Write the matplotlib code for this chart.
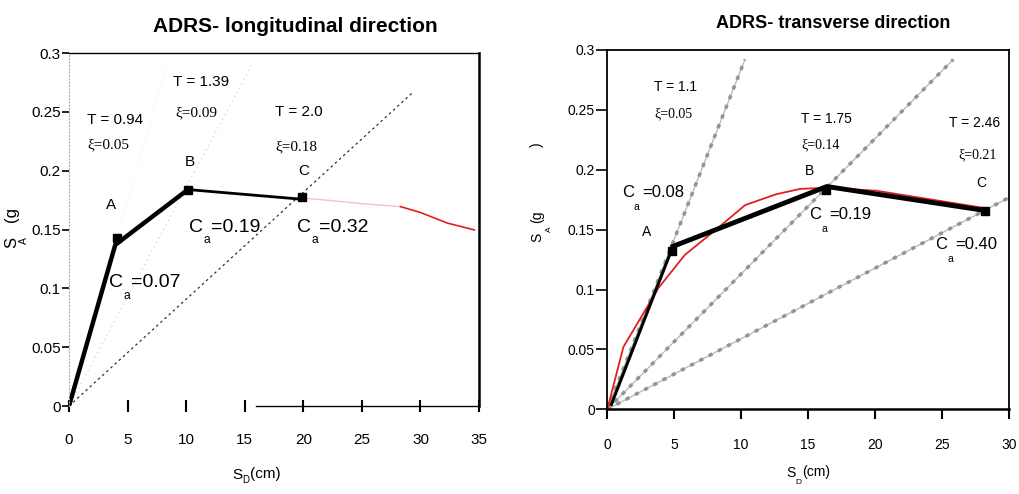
import matplotlib
matplotlib.use("Agg")
import matplotlib.pyplot as plt

plt.rcParams['font.family'] = ['Liberation Sans', 'DejaVu Sans']

# ---------------- data: longitudinal ----------------
L_cap_x = [0.0, 3.95, 10.15, 19.6]
L_cap_y = [0.0, 0.137, 0.184, 0.176]
L_pts_x = [4.08, 10.15, 19.9]
L_pts_y = [0.1425, 0.1836, 0.178]
L_dem_x = [19.5, 22.0, 25.0, 28.3, 30.0, 32.3, 34.6]
L_dem_y = [0.177, 0.175, 0.172, 0.1695, 0.1645, 0.1555, 0.1497]
L_per_end_x = [8.6, 15.6, 29.4]     # T = 0.94, 1.39, 2.0 radial lines
L_per_end_y = [0.30, 0.29, 0.267]
L_T = ["T = 0.94", "T = 1.39", "T = 2.0"]
L_xi = ["ξ=0.05", "ξ=0.09", "ξ=0.18"]
L_Ca = ["=0.07", "=0.19", "=0.32"]
L_lbl = ["A", "B", "C"]

# ---------------- data: transverse ----------------
T_cap_x = [0.3, 4.9, 16.4, 28.2]
T_cap_y = [0.004, 0.136, 0.186, 0.166]
T_pts_x = [4.85, 16.35, 28.2]
T_pts_y = [0.1325, 0.1835, 0.1655]
T_dem_x = [0.0, 1.2, 3.8, 5.8, 7.9, 10.3, 12.6, 14.4, 16.4, 20.1, 28.2]
T_dem_y = [0.0, 0.052, 0.101, 0.129, 0.148, 0.1705, 0.1795, 0.184, 0.185, 0.1825, 0.168]
T_per_end_x = [10.28, 25.84, 30.0]  # T = 1.1, 1.75, 2.46 radial lines
T_per_end_y = [0.292, 0.292, 0.1767]
T_T = ["T = 1.1", "T = 1.75", "T = 2.46"]
T_xi = ["ξ=0.05", "ξ=0.14", "ξ=0.21"]
T_Ca = ["=0.08", "=0.19", "=0.40"]
T_lbl = ["A", "B", "C"]

fig = plt.figure(figsize=(10.19, 4.94), dpi=100)
axL = fig.add_axes([0.0677, 0.178, 0.4024, 0.7146])
axR = fig.add_axes([0.596, 0.1715, 0.394, 0.7273])

SERIF = ['Liberation Serif', 'DejaVu Serif']


def ca_text(ax, x, y, val, fs, sub_dx, val_dx, sub_dy):
    ax.annotate("C", (x, y), xytext=(0, 0), textcoords='offset points',
                fontsize=fs, ha='left', va='center')
    ax.annotate("a", (x, y), xytext=(sub_dx, sub_dy), textcoords='offset points',
                fontsize=fs * 0.62, ha='left', va='center')
    ax.annotate(val, (x, y), xytext=(val_dx, 0), textcoords='offset points',
                fontsize=fs, ha='left', va='center')


# ================= LEFT =================
ax = axL
ax.set_xlim(0, 35)
ax.set_ylim(0, 0.3)
# radial period lines
ax.plot([0, L_per_end_x[0]], [0, L_per_end_y[0]], color='#f0f0f0', lw=0.8, ls=(0, (1, 2)))
ax.plot([0, L_per_end_x[1]], [0, L_per_end_y[1]], color='#d0d0d0', lw=0.9, ls=(0, (1, 3)))
ax.plot([0, L_per_end_x[2]], [0, L_per_end_y[2]], color='#333333', lw=0.9, ls=(0, (2, 2.5)))
# demand (red)
ax.plot(L_dem_x[:4], L_dem_y[:4], color='#f7c0c0', lw=1.0)
ax.plot(L_dem_x[3:], L_dem_y[3:], color='#e02020', lw=1.2)
# capacity
ax.plot(L_cap_x[:3], L_cap_y[:3], color='black', lw=3.2, solid_capstyle='round')
ax.plot(L_cap_x[2:], L_cap_y[2:], color='black', lw=2.0)
ax.plot(L_pts_x, L_pts_y, 's', color='black', ms=6)

fs = 11
ax.text(1.57, 0.2427, L_T[0], fontsize=fs, va='center')
ax.text(1.57, 0.222, L_xi[0], fontsize=fs, va='center', family=SERIF)
ax.text(8.92, 0.275, L_T[1], fontsize=fs, va='center')
ax.text(9.06, 0.2495, L_xi[1], fontsize=fs, va='center', family=SERIF)
ax.text(17.6, 0.2495, L_T[2], fontsize=fs, va='center')
ax.text(17.6, 0.2205, L_xi[2], fontsize=fs, va='center', family=SERIF)
ax.text(3.16, 0.171, L_lbl[0], fontsize=fs, va='center')
ax.text(9.86, 0.207, L_lbl[1], fontsize=fs, va='center')
ax.text(19.6, 0.200, L_lbl[2], fontsize=fs, va='center')
ca_text(ax, 3.45, 0.105, L_Ca[0], 14, 10.2, 15.5, -9.5)
ca_text(ax, 10.26, 0.152, L_Ca[1], 14, 10.2, 15.5, -9.5)
ca_text(ax, 19.5, 0.152, L_Ca[2], 14, 10.2, 15.5, -9.5)

ax.set_xticks([0, 5, 10, 15, 20, 25, 30, 35])
ax.set_yticks([0, 0.05, 0.1, 0.15, 0.2, 0.25, 0.3])
ax.set_yticklabels(['0', '0.05', '0.1', '0.15', '0.2', '0.25', '0.3'])
ax.tick_params(axis='x', direction='inout', length=9, width=1.5, pad=15, labelsize=11)
ax.tick_params(axis='y', direction='out', length=5, width=1.2, pad=1, labelsize=11)
ax.spines['bottom'].set_bounds(16, 35)
ax.spines['bottom'].set_linewidth(1.0)
ax.spines['left'].set_color('#aaaaaa')
ax.spines['left'].set_linestyle((0, (1, 2)))
ax.spines['left'].set_linewidth(0.8)
ax.spines['right'].set_linewidth(1.8)
ax.spines['top'].set_linewidth(1.0)

# left labels
fig.text(237 / 1019, 1 - 475 / 494, "S", fontsize=11, ha='center', va='center')
fig.text(246 / 1019, 1 - 480 / 494, "D", fontsize=7, ha='center', va='center')
fig.text(265 / 1019, 1 - 474 / 494, "(cm)", fontsize=11, ha='center', va='center')
fig.text(12 / 1019, 1 - 243 / 494, "S", fontsize=12, rotation=90, ha='center', va='center')
fig.text(24 / 1019, 1 - 241 / 494, "A", fontsize=7.5, rotation=90, ha='center', va='center')
fig.text(12 / 1019, 1 - 214 / 494, "(g", fontsize=12, rotation=90, ha='center', va='center')
fig.text(295 / 1019, 1 - 27 / 494, "ADRS- longitudinal direction", fontsize=15,
         fontweight='bold', ha='center', va='center')

# ================= RIGHT =================
ax = axR
ax.set_xlim(0, 30)
ax.set_ylim(0, 0.3)
for ex, ey in zip(T_per_end_x, T_per_end_y):
    ax.plot([0, ex], [0, ey], color='#b5b5b5', lw=0.9)
    ax.plot([0, ex], [0, ey], color='#939393', lw=2.5, ls=(0, (1.2, 1.8)))
ax.plot(T_dem_x, T_dem_y, color='#e02020', lw=1.3)
ax.plot(T_cap_x[:2], T_cap_y[:2], color='black', lw=2.2)
ax.plot(T_cap_x[1:], T_cap_y[1:], color='black', lw=3.5)
ax.plot(T_pts_x, T_pts_y, 's', color='black', ms=5.5)

fs = 10
ax.text(3.49, 0.2688, T_T[0], fontsize=fs, va='center')
ax.text(3.49, 0.247, T_xi[0], fontsize=fs, va='center', family=SERIF)
ax.text(14.5, 0.242, T_T[1], fontsize=fs, va='center')
ax.text(14.5, 0.2207, T_xi[1], fontsize=fs, va='center', family=SERIF)
ax.text(25.54, 0.239, T_T[2], fontsize=fs, va='center')
ax.text(26.2, 0.2123, T_xi[2], fontsize=fs, va='center', family=SERIF)
ax.text(2.56, 0.148, T_lbl[0], fontsize=fs, va='center')
ax.text(14.76, 0.199, T_lbl[1], fontsize=fs, va='center')
ax.text(27.6, 0.1887, T_lbl[2], fontsize=fs, va='center')
ca_text(ax, 1.07, 0.181, T_Ca[0], 12, 8.8, 14.6, -10.5)
ca_text(ax, 15.1, 0.163, T_Ca[1], 12, 8.8, 14.6, -10.5)
ca_text(ax, 24.5, 0.138, T_Ca[2], 12, 8.8, 14.6, -10.5)

ax.set_xticks([0, 5, 10, 15, 20, 25, 30])
ax.set_yticks([0, 0.05, 0.1, 0.15, 0.2, 0.25, 0.3])
ax.set_yticklabels(['0', '0.05', '0.1', '0.15', '0.2', '0.25', '0.3'])
ax.tick_params(axis='x', direction='out', length=7, width=1.5, pad=14, labelsize=10)
ax.tick_params(axis='y', direction='out', length=8, width=1.2, pad=1, labelsize=10)
for s in ax.spines.values():
    s.set_linewidth(1.3)
ax.spines['bottom'].set_linewidth(1.8)

fig.text(791 / 1019, 1 - 473 / 494, "S", fontsize=10, ha='center', va='center')
fig.text(798.5 / 1019, 1 - 482 / 494, "D", fontsize=6, ha='center', va='center')
fig.text(816 / 1019, 1 - 472 / 494, "(cm)", fontsize=10, ha='center', va='center')
fig.text(537 / 1019, 1 - 237 / 494, "S", fontsize=10, rotation=90, ha='center', va='center')
fig.text(549 / 1019, 1 - 229 / 494, "A", fontsize=6, rotation=90, ha='center', va='center')
fig.text(537 / 1019, 1 - 217 / 494, "(g", fontsize=10, rotation=90, ha='center', va='center')
fig.text(537 / 1019, 1 - 145 / 494, ")", fontsize=10, rotation=90, ha='center', va='center')
fig.text(833 / 1019, 1 - 23 / 494, "ADRS- transverse direction", fontsize=13,
         fontweight='bold', ha='center', va='center')

fig.savefig("out.png", dpi=100)
